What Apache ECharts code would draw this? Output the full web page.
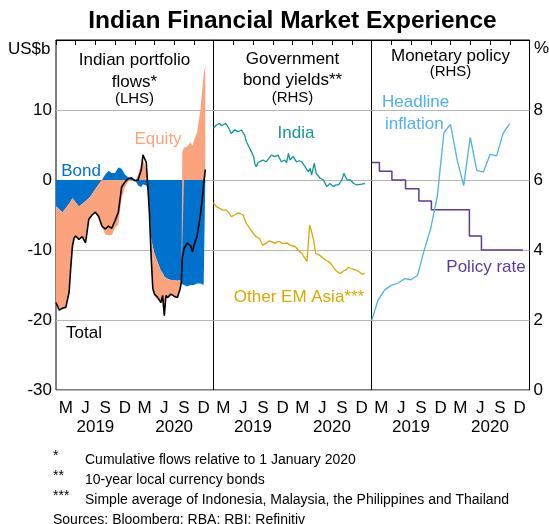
<!DOCTYPE html>
<html>
<head>
<meta charset="utf-8">
<title>Indian Financial Market Experience</title>
<script src="https://cdn.jsdelivr.net/npm/echarts@6/dist/echarts.min.js"></script>
<style>
  html, body { margin: 0; padding: 0; background: #fff; }
  #chart { width: 549px; height: 524px; }
</style>
</head>
<body>
<div id="chart"></div>
<script>
// months since 1 Jan 2019
const flowMonths = [0, 0.5, 1, 1.5, 2, 2.25, 2.5, 2.75, 3, 3.5, 4, 4.5, 5, 5.5, 6, 6.5, 7, 7.5, 8, 8.5,
  9, 9.5, 10, 10.5, 11, 11.5, 12, 12.5, 13, 13.25, 13.5, 13.75, 14, 14.25, 14.5, 14.75, 15, 15.5, 16, 16.25,
  16.5, 16.75, 17, 17.5, 18, 18.5, 18.9, 19.1, 19.25, 19.5, 20, 20.5, 20.8, 21, 21.5, 22, 22.25, 22.5, 22.75];
const bondFlows = [-3.7, -4.2, -4.6, -4.0, -3.4, -3.0, -2.6, -2.9, -3.2, -3.8, -3.4, -3.0, -2.6, -2.0, -1.3, -0.6, 0.0, 0.8, 1.3, 1.0,
  1.0, 1.8, 1.6, 0.8, 0.4, 0.2, 0.1, -0.8, -1.0, -0.6, -0.4, -0.8, -1.5, -4.0, -8.4, -9.5, -10.5, -11.8, -13.0, -13.3,
  -13.8, -14.0, -14.1, -14.3, -14.3, -14.4, -14.3, -14.6, -14.9, -15.0, -15.2, -15.0, -15.2, -15.0, -14.8, -14.8, -14.9, -15.0, -15.0];
const equityFlows = [-13.8, -14.4, -13.7, -14.2, -12.6, -9.5, -6.9, -5.4, -4.8, -4.7, -4.7, -6.0, -3.0, -3.0, -3.3, -4.6, -6.6, -7.8, -7.9, -7.9,
  -6.8, -6.4, -2.6, -1.1, -0.2, 0.1, -0.2, 0.8, 2.3, 2.9, 2.7, 1.5, 0.3, -1.0, -2.6, -6.0, -5.8, -5.0, -4.5, -3.2,
  -5.6, -2.5, -2.7, -2.0, -2.3, -2.4, -1.3, 0.0, 4.0, 4.6, 4.8, 5.4, 4.9, 5.6, 6.8, 10.0, 12.6, 15.0, 16.3];
const totalFlows = [-17.5, -18.6, -18.3, -18.2, -16.0, -12.5, -9.5, -8.3, -8.0, -8.5, -8.1, -9.0, -5.6, -5.0, -4.6, -5.2, -6.6, -7.0, -6.6, -6.9,
  -5.8, -4.6, -1.0, -0.3, 0.2, 0.3, -0.1, 0.0, 1.5, 3.6, 3.5, 2.5, -1.0, -5.0, -11.0, -15.5, -16.3, -16.8, -17.5, -16.5,
  -19.4, -16.5, -16.8, -16.3, -16.6, -16.8, -15.6, -14.6, -11.0, -9.8, -9.0, -9.4, -10.3, -9.4, -8.0, -5.0, -3.0, -0.6, 1.5];

const indiaMonths = [0, 0.43, 0.93, 1.2, 1.44, 1.85, 2.2, 2.71, 3.2, 3.72, 4.22, 4.73, 4.99, 5.25, 5.5, 5.75, 6.1, 6.3, 6.5, 6.75,
  7.0, 7.5, 8.0, 8.4, 8.8, 9.3, 9.8, 10.3, 10.8, 11.1, 11.39, 11.6, 12.1, 12.6, 13.0, 13.4, 13.9, 14.4, 14.7, 14.9,
  15.3, 15.6, 16.2, 16.7, 17.2, 17.7, 18.2, 18.6, 19.0, 19.5, 19.8, 20.3, 20.8, 21.3, 21.8, 22.5, 23.0];
const indiaYield = [7.48, 7.57, 7.62, 7.55, 7.52, 7.62, 7.52, 7.33, 7.43, 7.38, 7.43, 7.29, 7.1, 7.0, 6.95, 6.81, 6.67, 6.45, 6.38, 6.5,
  6.48, 6.57, 6.52, 6.62, 6.71, 6.67, 6.71, 6.52, 6.57, 6.5, 6.76, 6.57, 6.67, 6.52, 6.55, 6.52, 6.38, 6.24, 6.33, 6.14,
  6.48, 6.19, 6.05, 6.0, 5.81, 5.9, 5.81, 5.86, 5.86, 6.0, 6.19, 6.0, 6.0, 5.9, 5.86, 5.88, 5.9];
const emMonths = [0, 0.43, 0.93, 1.44, 1.95, 2.4, 2.71, 3.2, 3.6, 3.97, 4.48, 4.99, 5.5, 6.0, 6.5, 7.0, 7.45, 8.0, 8.4, 8.8,
  9.3, 9.7, 10.05, 10.4, 10.8, 11.2, 11.6, 12.4, 12.9, 13.4, 13.9, 14.2, 14.4, 14.6, 14.7, 14.9, 15.2, 15.5, 16.0, 16.4,
  16.7, 17.1, 17.5, 18.0, 18.4, 18.8, 19.3, 19.7, 20.1, 20.5, 20.8, 21.2, 21.6, 22.1, 22.6, 23.0];
const emYield = [5.35, 5.24, 5.19, 5.14, 5.14, 5.05, 4.95, 5.0, 5.05, 5.05, 5.0, 4.76, 4.62, 4.48, 4.38, 4.33, 4.14, 4.19, 4.26, 4.24,
  4.19, 4.24, 4.24, 4.19, 4.19, 4.2, 4.14, 4.1, 4.0, 3.9, 3.76, 3.67, 4.19, 4.71, 4.67, 4.52, 4.29, 3.9, 3.86, 3.81,
  3.76, 3.7, 3.67, 3.57, 3.45, 3.38, 3.33, 3.4, 3.43, 3.5, 3.52, 3.45, 3.43, 3.38, 3.31, 3.33];

const policyMonths = [0, 1.2, 3.1, 5.17, 7.2, 9.1, 14.87, 16.7, 23];
const policyRate = [6.5, 6.25, 6.0, 5.75, 5.4, 5.15, 4.4, 4.0, 4.0];
const inflationMonths = [0, 1, 2, 3, 4, 5, 6, 7, 8, 9, 10, 11, 12, 13, 14, 15, 16, 17, 18, 19, 20, 21];
const headlineInflation = [1.97, 2.57, 2.86, 2.99, 3.05, 3.18, 3.15, 3.28, 3.99, 4.62, 5.54, 7.35, 7.59, 6.58, 5.84, 7.22,
  6.27, 6.23, 6.73, 6.69, 7.34, 7.61];

const quarterLabels = ['M', 'J', 'S', 'D', 'M', 'J', 'S', 'D'];
const yearLabels = ['2019', '2020'];

const font = 'Liberation Sans, Arial, sans-serif';
const gridColor = '#b5b5b5';
const t0 = Date.UTC(2019, 0, 1);
const t1 = Date.UTC(2021, 0, 1);

// month offset -> timestamp, so the data axis is a time axis and stacking runs on y
function toTime(m) {
  return t0 + (t1 - t0) * m / 24;
}

function pairs(xs, ys) {
  return xs.map((x, i) => [toTime(x), ys[i]]);
}

function txt(text, x, y, color, size, align, extra) {
  return {
    type: 'text', x: x, y: y, z: 100,
    style: Object.assign({
      text: text, fill: color, fontSize: size, fontFamily: font,
      align: align || 'center', verticalAlign: 'middle'
    }, extra || {})
  };
}

const chart = echarts.init(document.getElementById('chart'));

const grids = [
  { left: 56, top: 40, width: 157.5, height: 350 },
  { left: 213.5, top: 40, width: 158, height: 350 },
  { left: 371.5, top: 40, width: 158, height: 350 }
].map(g => Object.assign(g, { show: true, borderColor: '#000', borderWidth: 1, containLabel: false }));

// per grid: 0 time axis for data, 1 quarter ticks, 2 month letters, 3 years
const xAxes = [];
grids.forEach((g, i) => {
  xAxes.push({
    type: 'time', gridIndex: i, min: t0, max: t1, show: false
  });
  xAxes.push({
    type: 'value', gridIndex: i, min: 0, max: 24, interval: 3,
    axisLine: { show: true, lineStyle: { color: '#000' } },
    axisTick: { show: true, inside: true, length: 5, lineStyle: { color: '#000' } },
    axisLabel: { show: false }, splitLine: { show: false }
  });
  xAxes.push({
    type: 'category', gridIndex: i, position: 'bottom', data: quarterLabels, boundaryGap: true,
    axisLine: { show: false }, axisTick: { show: false },
    axisLabel: { color: '#000', fontSize: 17, fontFamily: font, margin: 10, interval: 0 }
  });
  xAxes.push({
    type: 'category', gridIndex: i, position: 'bottom', offset: 19, data: yearLabels, boundaryGap: true,
    axisLine: { show: false }, axisTick: { show: false },
    axisLabel: { color: '#000', fontSize: 17, fontFamily: font, margin: 10, interval: 0 }
  });
});

const yAxes = [
  {
    type: 'value', gridIndex: 0, min: -30, max: 20, interval: 10,
    axisLine: { show: false }, axisTick: { show: false },
    axisLabel: { color: '#000', fontSize: 17, fontFamily: font, margin: 4, formatter: v => (v === 20 ? '' : v) },
    splitLine: { lineStyle: { color: gridColor } }
  },
  {
    type: 'value', gridIndex: 1, min: 0, max: 10, interval: 2,
    axisLine: { show: false }, axisTick: { show: false }, axisLabel: { show: false },
    splitLine: { lineStyle: { color: gridColor } }
  },
  {
    type: 'value', gridIndex: 2, min: 0, max: 10, interval: 2, position: 'right',
    axisLine: { show: false }, axisTick: { show: false },
    axisLabel: { color: '#000', fontSize: 17, fontFamily: font, margin: 4, formatter: v => (v === 10 ? '' : v) },
    splitLine: { lineStyle: { color: gridColor } }
  }
];

const option = {
  animation: false,
  backgroundColor: '#fff',
  grid: grids,
  xAxis: xAxes,
  yAxis: yAxes,
  series: [
    {
      name: 'Bond', type: 'line', xAxisIndex: 0, yAxisIndex: 0, stack: 'flows',
      data: pairs(flowMonths, bondFlows), symbol: 'none',
      lineStyle: { width: 0 }, areaStyle: { color: '#0072ce', opacity: 1 }
    },
    {
      name: 'Equity', type: 'line', xAxisIndex: 0, yAxisIndex: 0, stack: 'flows',
      data: pairs(flowMonths, equityFlows), symbol: 'none',
      lineStyle: { width: 0 }, areaStyle: { color: '#fba37c', opacity: 1 }
    },
    {
      name: 'Total', type: 'line', xAxisIndex: 0, yAxisIndex: 0,
      data: pairs(flowMonths, totalFlows), symbol: 'none',
      lineStyle: { color: '#000', width: 1.6 }
    },
    {
      name: 'India', type: 'line', xAxisIndex: 4, yAxisIndex: 1,
      data: pairs(indiaMonths, indiaYield), symbol: 'none',
      lineStyle: { color: '#13979b', width: 1.3 }
    },
    {
      name: 'Other EM Asia', type: 'line', xAxisIndex: 4, yAxisIndex: 1,
      data: pairs(emMonths, emYield), symbol: 'none',
      lineStyle: { color: '#d9a900', width: 1.3 }
    },
    {
      name: 'Policy rate', type: 'line', xAxisIndex: 8, yAxisIndex: 2, step: 'end',
      data: pairs(policyMonths, policyRate), symbol: 'none',
      lineStyle: { color: '#5d3b91', width: 1.5 }
    },
    {
      name: 'Headline inflation', type: 'line', xAxisIndex: 8, yAxisIndex: 2,
      data: pairs(inflationMonths, headlineInflation), symbol: 'none',
      lineStyle: { color: '#4eb2e6', width: 1.3 }
    }
  ],
  graphic: [
    txt('Indian Financial Market Experience', 292.5, 21, '#000', 24.5, 'center', { fontWeight: 'bold' }),
    txt('US$b', 8, 49, '#000', 17, 'left'),
    txt('%', 534, 48, '#000', 17, 'left'),
    txt('Indian portfolio', 134.5, 60, '#000', 17),
    txt('flows*', 134.5, 82, '#000', 17),
    txt('(LHS)', 134.5, 99, '#000', 15),
    txt('Government', 292.5, 59, '#000', 17),
    txt('bond yields**', 292.5, 80, '#000', 17),
    txt('(RHS)', 292.5, 98, '#000', 15),
    txt('Monetary policy', 450.5, 56, '#000', 17),
    txt('(RHS)', 450.5, 72, '#000', 15),
    txt('Equity', 158, 139, '#fba37c', 17),
    txt('Bond', 81, 171, '#0072ce', 17),
    txt('Total', 84, 333, '#000', 17),
    txt('India', 296, 133, '#13979b', 17),
    txt('Other EM Asia***', 299, 297, '#d9a900', 17),
    txt('Headline', 382, 102, '#4eb2e6', 17, 'left'),
    txt('inflation', 385, 124, '#4eb2e6', 17, 'left'),
    txt('Policy rate', 486, 267, '#5d3b91', 17),
    txt('*', 53, 456, '#000', 14, 'left'),
    txt('Cumulative flows relative to 1 January 2020', 85, 460, '#000', 14, 'left'),
    txt('**', 53, 476, '#000', 14, 'left'),
    txt('10-year local currency bonds', 85, 480, '#000', 14, 'left'),
    txt('***', 53, 496, '#000', 14, 'left'),
    txt('Simple average of Indonesia, Malaysia, the Philippines and Thailand', 85, 500, '#000', 14, 'left'),
    txt('Sources: Bloomberg; RBA; RBI; Refinitiv', 53, 520, '#000', 14, 'left')
  ]
};

chart.setOption(option);
</script>
</body>
</html>
